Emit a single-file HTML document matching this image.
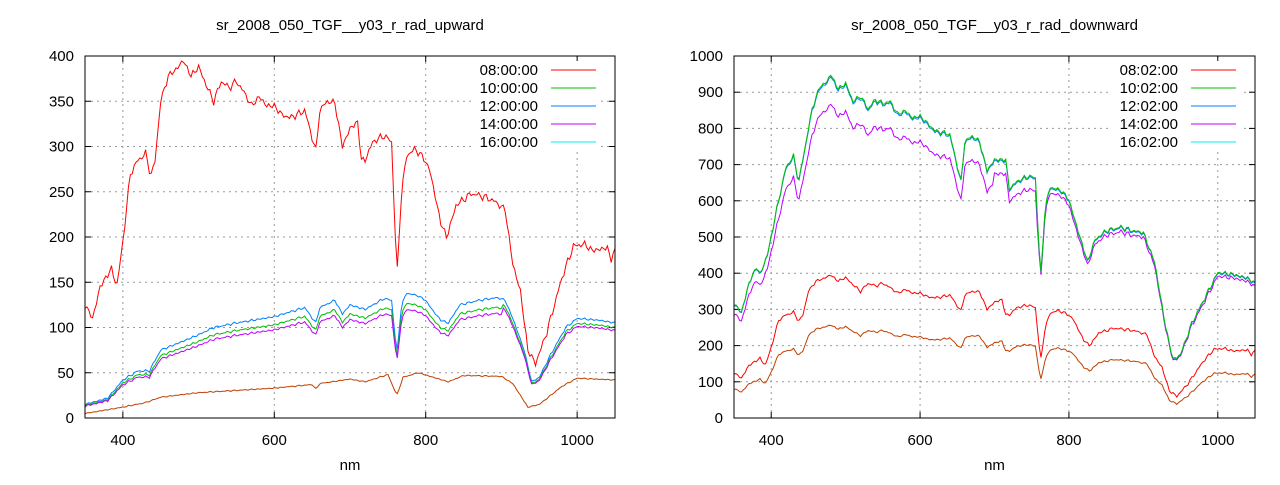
<!DOCTYPE html>
<html><head><meta charset="utf-8"><style>
body{margin:0;background:#fff;width:1280px;height:480px;overflow:hidden}
svg text{font-family:"Liberation Sans",sans-serif;font-size:15px;fill:#000}
</style></head><body>
<svg id="s" width="1280" height="480" xmlns="http://www.w3.org/2000/svg"></svg>
<script>
const S=document.getElementById('s');let h='';
function interp(k,x){for(let i=0;i<k.length-1;i++){if(x>=k[i][0]&&x<=k[i+1][0]){const t=(x-k[i][0])/(k[i+1][0]-k[i][0]);return k[i][1]+t*(k[i+1][1]-k[i][1]);}}return k[k.length-1][1];}
function noise(x,a){return a*(Math.sin(x*1.7)+0.6*Math.sin(x*3.1+1)+0.4*Math.sin(x*0.53));}
const red=[[350,125],[360,110],[370,145],[385,165],[392,145],[400,195],[410,270],[420,285],[430,292],[437,268],[442,280],[450,350],[460,378],[470,385],[480,395],[490,378],[500,388],[510,368],[520,350],[530,372],[540,365],[550,372],[560,360],[570,345],[580,355],[590,345],[600,345],[610,335],[620,332],[630,335],[640,340],[655,295],[660,340],[670,350],[680,348],[690,300],[700,320],[710,327],[715,285],[720,285],[730,305],[745,312],[755,305],[762,155],[768,250],[775,290],[785,297],[795,290],[805,275],[815,235],[820,215],[828,200],[840,235],[860,248],[875,245],[890,240],[905,230],[915,170],[925,140],[935,75],[945,60],[960,95],[980,155],[995,190],[1010,192],[1020,185],[1040,188],[1045,175],[1050,185]];
const blue=[[350,15],[380,22],[400,42],[420,52],[435,52],[450,75],[480,85],[500,92],[520,100],[550,105],[600,112],[640,122],[655,105],[660,122],[680,130],[690,115],[700,125],[720,120],[745,132],[755,130],[762,70],[768,125],[775,138],[790,135],[800,130],[810,118],[820,108],[830,105],[845,125],[870,130],[895,133],[905,130],[915,110],[930,75],[940,40],[950,45],[965,70],[985,100],[1000,110],[1030,108],[1050,105]];
const brown=[[350,5],[400,12],[430,17],[450,23],[500,28],[600,33],[650,37],[655,32],[660,38],[700,43],[720,40],[750,48],[762,25],[770,45],[790,50],[810,45],[830,40],[850,47],[900,46],[915,38],[935,12],[950,15],[980,35],[1000,44],[1050,42]];
const rb=[[350,315],[360,290],[370,370],[380,415],[385,395],[395,450],[410,600],[420,690],[430,720],[437,650],[445,740],[455,850],[465,910],[475,925],[480,945],[490,905],[500,920],[510,870],[520,885],[530,850],[540,875],[550,865],[560,870],[570,835],[580,845],[590,825],[600,830],[620,790],[640,780],[655,650],[660,760],[670,775],[680,760],[690,680],[700,710],[715,710],[720,630],[730,650],[745,665],[755,660],[762,380],[768,580],[775,635],[790,625],[800,600],[810,530],[825,430],[835,490],[850,515],[870,525],[885,515],[900,510],[915,430],[930,250],[940,160],[950,175],[965,260],[985,340],[1000,400],[1020,395],[1040,385],[1050,370]];
function plot(x0,x1,y0,y1,ymax,ystep,title,series,labels,lx){
 const X=v=>x0+(v-350)/700*(x1-x0),Y=v=>y1-v/ymax*(y1-y0);
 for(let v=400;v<=1000;v+=200){h+=`<line x1="${X(v)}" y1="${y0}" x2="${X(v)}" y2="${y1}" stroke="#999" stroke-dasharray="2,4"/>`;h+=`<text x="${X(v)}" y="${y1+27}" text-anchor="middle">${v}</text>`;h+=`<line x1="${X(v)}" y1="${y1}" x2="${X(v)}" y2="${y1-6}" stroke="#000"/><line x1="${X(v)}" y1="${y0}" x2="${X(v)}" y2="${y0+6}" stroke="#000"/>`;}
 for(let v=0;v<=ymax;v+=ystep){h+=`<line x1="${x0}" y1="${Y(v)}" x2="${x1}" y2="${Y(v)}" stroke="#999" stroke-dasharray="2,4"/>`;h+=`<text x="${x0-11}" y="${Y(v)+5}" text-anchor="end">${v}</text>`;h+=`<line x1="${x0}" y1="${Y(v)}" x2="${x0+6}" y2="${Y(v)}" stroke="#000"/><line x1="${x1}" y1="${Y(v)}" x2="${x1-6}" y2="${Y(v)}" stroke="#000"/>`;}
 for(const [col,fn] of series){let p='';for(let n=350;n<=1050;n+=2.5){p+=X(n).toFixed(1)+','+Y(Math.max(0,fn(n))).toFixed(1)+' ';}h+=`<polyline points="${p}" fill="none" stroke="${col}" stroke-width="1"/>`;}
 h+=`<rect x="${x0}" y="${y0}" width="${x1-x0}" height="${y1-y0}" fill="none" stroke="#000"/>`;
 h+=`<text x="${(x0+x1)/2}" y="30" text-anchor="middle">${title}</text><text x="${(x0+x1)/2}" y="470" text-anchor="middle">nm</text>`;
 const lc=['#ff0000','#00c000','#0080ff','#c000ff','#00eeee'];
 labels.forEach((l,i)=>{const yy=70+18*i;h+=`<rect x="${lx-66}" y="${yy-9}" width="128" height="18" fill="#fff"/><text x="${lx}" y="${yy+5}" text-anchor="end">${l}</text><line x1="${lx+13}" y1="${yy}" x2="${lx+58}" y2="${yy}" stroke="${lc[i]}"/>`;});
}
plot(85,615,56,418,400,50,'sr_2008_050_TGF__y03_r_rad_upward',[
['#c04000',n=>interp(brown,n)+noise(n,0.4)],
['#ff0000',n=>interp(red,n)+noise(n,2.5)],
['#0080ff',n=>interp(blue,n)+noise(n,0.8)],
['#00c000',n=>interp(blue,n)*(n>900?0.95:0.92)+noise(n,0.8)],
['#c000ff',n=>interp(blue,n)*(n>900?0.92:0.87)+noise(n,0.8)]],
['08:00:00','10:00:00','12:00:00','14:00:00','16:00:00'],538);
plot(734,1255,56,418,1000,100,'sr_2008_050_TGF__y03_r_rad_downward',[
['#c04000',n=>interp(red,n)*0.65+noise(n,1.5)],
['#ff0000',n=>interp(red,n)*1.0+noise(n,2.5)],
['#c000ff',n=>interp(rb,n)*(n<700?0.92:(n<760?0.95:0.98))+noise(n,4)],
['#0080ff',n=>interp(rb,n)+noise(n,4)],
['#00c000',n=>interp(rb,n)*1.005+noise(n,4)]],
['08:02:00','10:02:00','12:02:00','14:02:00','16:02:00'],1178);
S.innerHTML=h;
</script>
</body></html>
